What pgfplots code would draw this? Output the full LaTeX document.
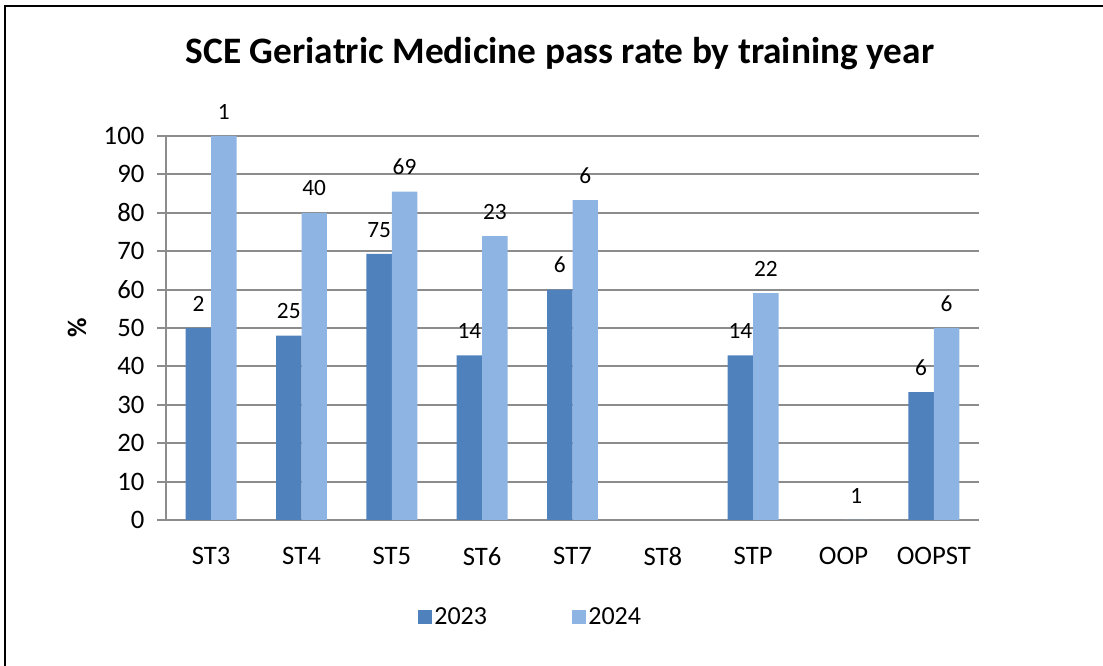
\documentclass[border=0pt]{standalone}
\usepackage{fontspec}
\setmainfont{Carlito}
\usepackage{pgfplots}
\pgfplotsset{compat=1.18}
\definecolor{c23}{HTML}{4F81BD}
\definecolor{c24}{HTML}{8EB4E3}
\definecolor{gridc}{HTML}{8C8C8C}
\begin{document}
\begin{tikzpicture}
\useasboundingbox (0,0) rectangle (827.25pt,499.5pt);
\draw[line width=2.2pt] (3.75pt,-10pt) -- (3.75pt,495pt) -- (840pt,495pt);
\node[font=\fontsize{28}{32}\selectfont\bfseries] at (420pt,459.5pt) {SCE Geriatric Medicine pass rate by training year};
\node[rotate=90, font=\fontsize{20}{24}\selectfont\bfseries] at (57.75pt,253.5pt) {\%};
\begin{axis}[
  at={(124.5pt,109.5pt)}, anchor=south west,
  scale only axis, width=609.75pt, height=288pt,
  xmin=-0.5, xmax=8.5, ymin=0, ymax=100,
  ybar=0pt, bar width=19.1pt,
  axis x line*=bottom, axis y line*=left,
  axis line style={gridc, line width=1.4pt, -},
  ymajorgrids, grid style={gridc, line width=1.4pt},
  ytick={0,10,...,100},
  xtick={0,...,8},
  xticklabels={ST3,ST4,ST5,ST6,ST7,ST8,STP,OOP,OOPST},
  x tick style={draw=none},
  y tick style={gridc, line width=1.4pt},
  tick align=outside, major tick length=6.75pt,
  /pgf/number format/assume math mode=true,
  yticklabel style={font=\fontsize{20}{24}\selectfont, xshift=-6pt},
  xticklabel style={font=\fontsize{20}{24}\selectfont, yshift=-10pt},
  nodes near coords, point meta=explicit symbolic,
  every node near coord/.append style={font=\fontsize{17.5}{21}\selectfont, yshift=9pt, black},
  legend columns=2,
  legend style={at={(0.449,-0.253)}, anchor=center, draw=none, fill=none,
    font=\fontsize{19.5}{22}\selectfont,
    /tikz/every even column/.append style={column sep=62pt}},
  legend image code/.code={\fill[#1] (0pt,-5.5pt) rectangle (10pt,5.5pt);},
]
\addplot[fill=c23, draw=none] coordinates {
 (0,50) [2] (1,48) [25] (2,69.3) [75] (3,42.9) [14] (4,60) [6] (6,42.9) [14] (8,33.3) [6]
};
\addplot[fill=c24, draw=none] coordinates {
 (0,100) [1] (1,80) [40] (2,85.5) [69] (3,73.9) [23] (4,83.3) [6] (6,59.1) [22] (7,0) [1] (8,50) [6]
};
\legend{2023,2024}
\end{axis}
\end{tikzpicture}
\end{document}
